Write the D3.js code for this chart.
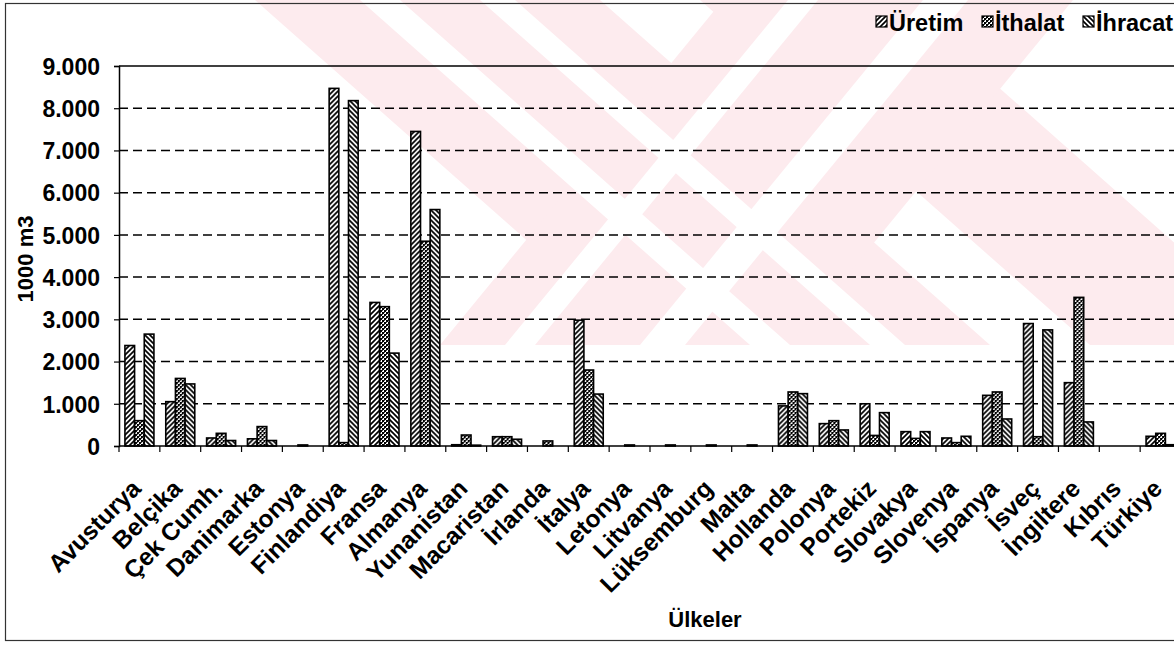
<!DOCTYPE html>
<html><head><meta charset="utf-8">
<script src="https://cdn.jsdelivr.net/npm/d3@7"></script>
<style>
html,body{margin:0;padding:0;background:#fff;}
svg{display:block;}
text{font-family:"Liberation Sans",Arial,sans-serif;font-weight:bold;fill:#000;}
</style></head>
<body>
<svg id="c" width="1174" height="645"></svg>
<script>
const categories = ["Avusturya","Belçika","Çek Cumh.","Danimarka","Estonya","Finlandiya","Fransa","Almanya","Yunanistan","Macaristan","İrlanda","İtalya","Letonya","Litvanya","Lüksemburg","Malta","Hollanda","Polonya","Portekiz","Slovakya","Slovenya","İspanya","İsveç","İngiltere","Kıbrıs","Türkiye"];
const seriesNames = ["Üretim","İthalat","İhracat"];
const uretim  = [2380,1050,190,170,0,8470,3400,7450,30,220,0,2980,0,0,0,0,950,530,1000,340,190,1200,2900,1500,0,230];
const ithalat = [600,1600,300,460,25,80,3300,4850,260,220,120,1800,25,25,25,25,1280,600,250,180,80,1280,220,3520,0,300];
const ihracat = [2650,1470,130,130,0,8180,2200,5600,20,160,0,1230,0,0,0,0,1240,380,790,340,230,640,2750,570,0,30];
const yTicks = [0,1000,2000,3000,4000,5000,6000,7000,8000,9000];
const yTitle = "1000 m3";
const xTitle = "Ülkeler";

const svg = d3.select("#c");
const pL = 119, pR = 1181, pT = 66, pB = 446;

// watermark (very light pink diagonal bands, clipped above y=345)
const wm = svg.append("g").attr("fill","#fdebee");
const stripes = [
  [[255,0],[600,0],[990,345],[645,345]],
  [[700,0],[900,0],[1290,345],[1090,345]],
  [[723,0],[1073,0],[790,345],[440,345]]
];
wm.selectAll("polygon").data(stripes).join("polygon")
  .attr("points", d => d.map(p => p.join(",")).join(" "));
const gaps = [
  [[360,0],[400,0],[790,345],[750,345]],
  [[480,0],[515,0],[905,345],[870,345]],
  [[788,0],[818,0],[535,345],[505,345]],
  [[923,0],[968,0],[685,345],[640,345]]
];
svg.append("g").attr("fill","#fff").selectAll("polygon").data(gaps).join("polygon")
  .attr("points", d => d.map(p => p.join(",")).join(" "));

// outer border
svg.append("rect").attr("x",5.5).attr("y",3.5).attr("width",1180).attr("height",637)
  .attr("fill","none").attr("stroke","#333").attr("stroke-width",1.2);

// patterns
const defs = svg.append("defs");
const p1 = defs.append("pattern").attr("id","pU").attr("patternUnits","userSpaceOnUse")
  .attr("width",5).attr("height",5);
p1.append("rect").attr("width",5).attr("height",5).attr("fill","#fff");
p1.append("path").attr("d","M-1,1 L1,-1 M0,5 L5,0 M4,6 L6,4").attr("stroke","#000").attr("stroke-width",1.7);
const p3 = defs.append("pattern").attr("id","pX").attr("patternUnits","userSpaceOnUse")
  .attr("width",5).attr("height",5);
p3.append("rect").attr("width",5).attr("height",5).attr("fill","#fff");
p3.append("path").attr("d","M-1,4 L1,6 M0,0 L5,5 M4,-1 L6,1").attr("stroke","#000").attr("stroke-width",1.7);
const p2 = defs.append("pattern").attr("id","pI").attr("patternUnits","userSpaceOnUse")
  .attr("width",4).attr("height",4);
p2.append("rect").attr("width",4).attr("height",4).attr("fill","#fff");
p2.append("rect").attr("x",0).attr("y",0).attr("width",2).attr("height",2).attr("fill","#000");
p2.append("rect").attr("x",2).attr("y",2).attr("width",2).attr("height",2).attr("fill","#000");
p2.append("rect").attr("x",2).attr("y",0).attr("width",1).attr("height",1).attr("fill","#444");
p2.append("rect").attr("x",0).attr("y",2).attr("width",1).attr("height",1).attr("fill","#444");
const fills = {"Üretim":"url(#pU)","İthalat":"url(#pI)","İhracat":"url(#pX)"};

const x = d3.scaleBand().domain(categories).range([pL,pR]).paddingInner(0.29).paddingOuter(0.145);
const xs = d3.scaleBand().domain(seriesNames).range([0,x.bandwidth()]);
const y = d3.scaleLinear().domain([0,9000]).range([pB,pT]);

const loc = d3.formatLocale({decimal:",",thousands:".",grouping:[3],currency:["",""]});
const fmt = loc.format(",d");

// gridlines
svg.append("g").selectAll("line").data(yTicks.filter(t => t>0 && t<9000)).join("line")
  .attr("x1",pL).attr("x2",pR).attr("y1",d=>y(d)).attr("y2",d=>y(d))
  .attr("stroke","#000").attr("stroke-width",1.5).attr("stroke-dasharray","9,5");
// top border of plot
svg.append("line").attr("x1",pL).attr("x2",pR).attr("y1",pT).attr("y2",pT)
  .attr("stroke","#000").attr("stroke-width",1.5);

// bars
const data = categories.map((c,i) => ({c, vals:[uretim[i],ithalat[i],ihracat[i]]}));
const g = svg.append("g").selectAll("g").data(data).join("g")
  .attr("transform", d => `translate(${x(d.c)},0)`);
g.selectAll("rect").data(d => d.vals.map((v,j) => ({s:seriesNames[j], v})).filter(e => e.v>0)).join("rect")
  .attr("x", d => xs(d.s)).attr("width", xs.bandwidth())
  .attr("y", d => y(d.v)).attr("height", d => y(0)-y(d.v))
  .attr("fill", d => fills[d.s]).attr("stroke","#000").attr("stroke-width",1.6);

// y axis
const yAxis = d3.axisLeft(y).tickValues(yTicks).tickFormat(fmt).tickSize(5).tickPadding(14);
const ya = svg.append("g").attr("transform",`translate(${pL},0)`).call(yAxis);
ya.select(".domain").attr("stroke","#000").attr("stroke-width",1.5);
ya.selectAll(".tick line").attr("stroke","#000").attr("stroke-width",1.2);
ya.selectAll("text").attr("font-size",23).attr("font-family","Liberation Sans, Arial").attr("font-weight","bold").attr("dy","0.36em");

// x axis
const xa = svg.append("g").attr("transform",`translate(0,${pB})`).call(d3.axisBottom(x).tickSize(0).tickFormat(""));
xa.select(".domain").attr("stroke","#000").attr("stroke-width",1.5).attr("d",`M${pL},0H${pR}`);
xa.selectAll(".tick").remove();
const bounds = categories.map(c => x(c) - x.step()*x.paddingInner()/2);
svg.append("g").selectAll("line").data(bounds).join("line")
  .attr("x1",d=>d).attr("x2",d=>d).attr("y1",pB).attr("y2",pB+6)
  .attr("stroke","#000").attr("stroke-width",1.2);
svg.append("g").selectAll("text").data(categories).join("text")
  .attr("text-anchor","end").attr("font-size",24.5)
  .attr("transform", d => `translate(${x(d)+x.bandwidth()/2+3},${pB+44}) rotate(-45)`)
  .text(d => d);

// titles
svg.append("text").attr("text-anchor","middle").attr("font-size",22)
  .attr("transform",`translate(33,259) rotate(-90)`).text(yTitle);
svg.append("text").attr("text-anchor","middle").attr("font-size",22)
  .attr("x",705).attr("y",627).text(xTitle);

// legend
const legX = [876,982,1083];
const lg = svg.append("g").selectAll("g").data(seriesNames).join("g")
  .attr("transform",(d,i)=>`translate(${legX[i]},16)`);
lg.append("rect").attr("width",11).attr("height",11).attr("fill",d=>fills[d]).attr("stroke","#000").attr("stroke-width",1.2);
lg.append("text").attr("x",13).attr("y",15).attr("font-size",23.5).text(d=>d);
</script>
</body></html>
